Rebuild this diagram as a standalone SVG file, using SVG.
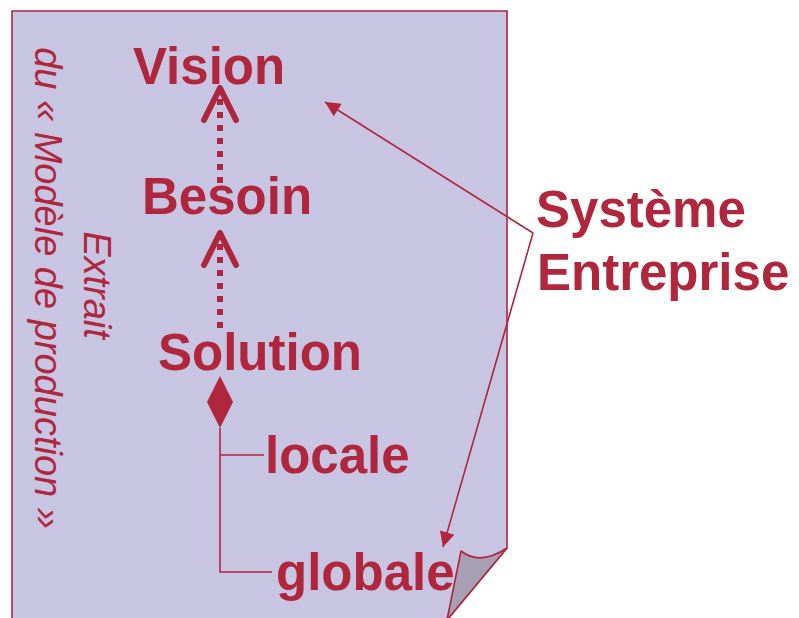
<svg xmlns="http://www.w3.org/2000/svg" width="799" height="618" viewBox="0 0 799 618">
<style>
.t{font-family:"Liberation Sans",Arial,sans-serif;font-weight:bold;font-size:51px;fill:#AF263D}
.it{font-family:"Liberation Sans",Arial,sans-serif;font-style:italic;font-size:38px;fill:#AF263D}
.dot{stroke:#AF263D;stroke-width:6;stroke-dasharray:6 7;fill:none}
.chev{stroke:#AF263D;stroke-width:6;fill:none;stroke-linecap:round;stroke-linejoin:round}
.ln{stroke:#AF263D;stroke-width:1.6;fill:none}
</style>
<defs>
<marker id="tri" viewBox="0 0 10 10" refX="10" refY="5" markerWidth="19" markerHeight="15" markerUnits="userSpaceOnUse" orient="auto">
<path d="M0,0 L10,5 L0,10 Z" fill="#AF263D"/>
</marker>
</defs>
<rect width="799" height="618" fill="#fff"/>
<g id="page">
<path d="M12,11 H507 V548 L447,620 H12 Z" fill="#C8C5E2" stroke="#AF263D" stroke-width="1.6"/>
<path d="M461,551 Q480,566 507,548 L447,620 Z" fill="#A79FB3" stroke="#AF263D" stroke-width="1.6" stroke-linejoin="round"/>
</g>
<g id="extrait">
<text class="it" text-anchor="middle" transform="translate(84,285) rotate(90)">Extrait</text>
<text class="it" text-anchor="middle" transform="translate(35,288) rotate(90)" font-size="38.5">du « Modèle de production »</text>
</g>
<g id="vision"><text class="t" x="133" y="84">Vision</text></g>
<g id="besoin"><text class="t" x="142" y="214">Besoin</text></g>
<g id="solution"><text class="t" x="158" y="370">Solution</text></g>
<g id="locale"><text class="t" x="265" y="473">locale</text></g>
<g id="globale"><text class="t" x="276" y="590">globale</text></g>
<g id="systeme"><text class="t" x="536" y="227">Système</text><text class="t" x="537" y="290">Entreprise</text></g>
<g id="connectors">
<line class="dot" x1="220" y1="183" x2="220" y2="97"/>
<polyline class="chev" points="204,120 220,88 236,120"/>
<line class="dot" x1="220" y1="328" x2="220" y2="242"/>
<polyline class="chev" points="204,265 220,233 236,265"/>
<path d="M220,376 L233,402 L220,428 L207,402 Z" fill="#AF263D"/>
<polyline class="ln" points="220,428 220,572 272,572"/>
<line class="ln" x1="220" y1="455" x2="264" y2="455"/>
<line class="ln" x1="533" y1="233" x2="325" y2="102" marker-end="url(#tri)"/>
<line class="ln" x1="533" y1="233" x2="443" y2="547" marker-end="url(#tri)"/>
</g>
</svg>
